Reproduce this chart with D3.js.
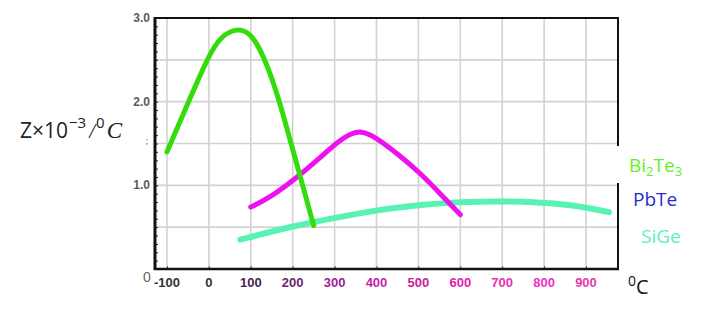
<!DOCTYPE html>
<html>
<head>
<meta charset="utf-8">
<script src="https://cdn.jsdelivr.net/npm/d3@7"></script>
<style>
    body { margin: 0; background: #fff; }
    svg { display: block; }
</style>
</head>
<body>
<svg id="chart" width="703" height="310"></svg>
<script>
// values (temperature in degC, Z in 1e-3 / degC)
let bi2te3T = [-100, -50, 0, 30, 68, 100, 130, 164, 196, 225, 250];
let bi2te3Z = [1.40, 1.98, 2.56, 2.79, 2.88, 2.82, 2.56, 2.09, 1.50, 0.98, 0.52];

let pbteT = [100, 148, 212, 267, 315, 340, 363, 394, 450, 506, 554, 600];
let pbteZ = [0.74, 0.86, 1.10, 1.34, 1.55, 1.62, 1.65, 1.59, 1.38, 1.14, 0.89, 0.65];

let sigeT = [75, 188, 347, 506, 697, 856, 955];
let sigeZ = [0.35, 0.50, 0.66, 0.78, 0.82, 0.78, 0.68];

let xTicks = [-100, 0, 100, 200, 300, 400, 500, 600, 700, 800, 900];
let xTickColors = ["#333", "#333", "#4a1f55", "#6e1f72", "#a0209c", "#c21fae",
                   "#c8209a", "#e021b4", "#e52fb4", "#ee30c2", "#e43aa6"];
let yLabelTicks = [1.0, 2.0, 3.0];
let legendNames = ["Bi2Te3", "PbTe", "SiGe"];

function main() {
    let svg = d3.select("#chart");

    let x = d3.scaleLinear().domain([-128.6, 976.4]).range([155, 618]);
    let y = d3.scaleLinear().domain([0, 3]).range([269, 18]);

    // grid
    svg.append("g")
        .selectAll("line")
        .data(xTicks)
        .join("line")
        .attr("x1", d => x(d)).attr("x2", d => x(d))
        .attr("y1", y(3)).attr("y2", y(0))
        .style("stroke", "#d2d2d2")
        .style("stroke-width", 1.6);
    svg.append("g")
        .selectAll("line")
        .data(d3.range(0.5, 3, 0.5))
        .join("line")
        .attr("x1", x.range()[0]).attr("x2", x.range()[1])
        .attr("y1", d => y(d)).attr("y2", d => y(d))
        .style("stroke", "#d2d2d2")
        .style("stroke-width", 1.6);

    // frame (top + right, right one broken by the legend box)
    svg.append("line")
        .attr("x1", 155).attr("x2", 619).attr("y1", y(3)).attr("y2", y(3))
        .style("stroke", "#111").style("stroke-width", 2);
    svg.append("line")
        .attr("x1", 618).attr("x2", 618).attr("y1", y(3) - 1).attr("y2", y(0))
        .style("stroke", "#111").style("stroke-width", 2);
    svg.append("rect")
        .attr("x", 617).attr("y", 146).attr("width", 70).attr("height", 37)
        .style("fill", "#fff");

    // y axis with minor ticks every 0.1
    let yAxis = d3.axisRight(y)
        .tickValues(d3.range(0, 3.01, 0.1))
        .tickSize(3)
        .tickFormat("");
    svg.append("g")
        .attr("transform", `translate(${x.range()[0]},0)`)
        .call(yAxis)
        .call(g => g.select(".domain").remove())
        .selectAll("line")
        .style("stroke", "#222")
        .style("stroke-width", 1);
    svg.append("line")
        .attr("x1", 155).attr("x2", 155).attr("y1", y(3) - 1).attr("y2", y(0) + 1)
        .style("stroke", "#111").style("stroke-width", 3);

    svg.append("g")
        .selectAll("text")
        .data(yLabelTicks)
        .join("text")
        .attr("x", 150)
        .attr("y", d => y(d) + 4)
        .attr("text-anchor", "end")
        .text(d => d.toFixed(1))
        .style("font-family", "Liberation Sans, Arial, sans-serif")
        .style("font-weight", "bold")
        .style("font-size", "12px")
        .style("fill", "#5a5a5a");
    svg.append("text")
        .attr("x", 147).attr("y", 282)
        .attr("text-anchor", "middle")
        .text("0")
        .style("font-family", "Liberation Sans, Arial, sans-serif")
        .style("font-size", "14px")
        .style("fill", "#666");
    svg.append("text")
        .attr("x", 147).attr("y", 144)
        .attr("text-anchor", "middle")
        .text(";")
        .style("font-family", "DejaVu Sans, sans-serif")
        .style("font-size", "9px")
        .style("fill", "#777");

    // x axis
    let xAxis = d3.axisTop(x)
        .tickValues(xTicks)
        .tickSize(3)
        .tickFormat("");
    svg.append("g")
        .attr("transform", `translate(0,${y(0)})`)
        .call(xAxis)
        .call(g => g.select(".domain").remove())
        .selectAll("line")
        .style("stroke", "#555")
        .style("stroke-width", 1);
    svg.append("line")
        .attr("x1", 154).attr("x2", 619).attr("y1", y(0)).attr("y2", y(0))
        .style("stroke", "#111").style("stroke-width", 2.5);

    svg.append("g")
        .selectAll("text")
        .data(xTicks)
        .join("text")
        .attr("x", d => x(d))
        .attr("y", 287)
        .attr("text-anchor", "middle")
        .text(d => d)
        .style("font-family", "Liberation Sans, Arial, sans-serif")
        .style("font-weight", "bold")
        .style("font-size", "13px")
        .style("fill", (d, i) => xTickColors[i]);

    // curves
    let line = d3.line()
        .x(d => x(d[0]))
        .y(d => y(d[1]))
        .curve(d3.curveBasis);

    let series = [
        { t: sigeT, z: sigeZ, color: "#58f2b4", w: 6 },
        { t: pbteT, z: pbteZ, color: "#ee10ee", w: 5 },
        { t: bi2te3T, z: bi2te3Z, color: "#33dd0c", w: 5 }
    ];
    svg.append("g")
        .selectAll("path")
        .data(series)
        .join("path")
        .attr("d", s => line(s.t.map((t, i) => [t, s.z[i]])))
        .style("fill", "none")
        .style("stroke", s => s.color)
        .style("stroke-width", s => s.w)
        .style("stroke-linecap", "round")
        .style("stroke-linejoin", "round");

    // legend
    let legendFont = "'Open Sans', Lato, sans-serif";
    let bi = svg.append("text")
        .attr("x", 629).attr("y", 172)
        .style("font-family", legendFont)
        .style("font-size", "19px")
        .style("fill", "#66ee22");
    bi.append("tspan").text("Bi");
    bi.append("tspan").attr("dy", 4).style("font-size", "13px").text("2");
    bi.append("tspan").attr("dy", -4).text("Te");
    bi.append("tspan").attr("dy", 4).style("font-size", "13px").text("3");

    svg.append("text")
        .attr("x", 633).attr("y", 206)
        .text(legendNames[1])
        .style("font-family", legendFont)
        .style("font-size", "19px")
        .style("fill", "#2a2ad0");
    svg.append("text")
        .attr("x", 641).attr("y", 243)
        .text(legendNames[2])
        .style("font-family", legendFont)
        .style("font-size", "19px")
        .style("fill", "#5cf0c2");

    // unit of x
    let unit = svg.append("text")
        .attr("x", 628).attr("y", 294)
        .style("font-family", legendFont)
        .style("font-size", "20px")
        .style("fill", "#111");
    unit.append("tspan").attr("dy", -8).style("font-size", "14px").text("0");
    unit.append("tspan").attr("dy", 8).text("C");

    // y label  Z×10^-3/^0C
    let yl = svg.append("text")
        .attr("x", 20).attr("y", 138)
        .style("font-family", "'Open Sans', 'DejaVu Sans', sans-serif")
        .style("font-size", "21px")
        .style("fill", "#222");
    yl.append("tspan").text("Z×10");
    yl.append("tspan").attr("dy", -10).attr("dx", 1).style("font-size", "15px").text("−3");
    yl.append("tspan").attr("dy", 10).attr("dx", 3)
        .style("font-family", "'Liberation Serif', serif").style("font-style", "italic").text("/");
    yl.append("tspan").attr("dy", -10).attr("dx", 1).style("font-size", "15px").text("0");
    yl.append("tspan").attr("dy", 10).attr("dx", 2)
        .style("font-family", "'Liberation Serif', serif").style("font-style", "italic")
        .style("font-size", "23px").text("C");
}

main();
</script>
</body>
</html>
